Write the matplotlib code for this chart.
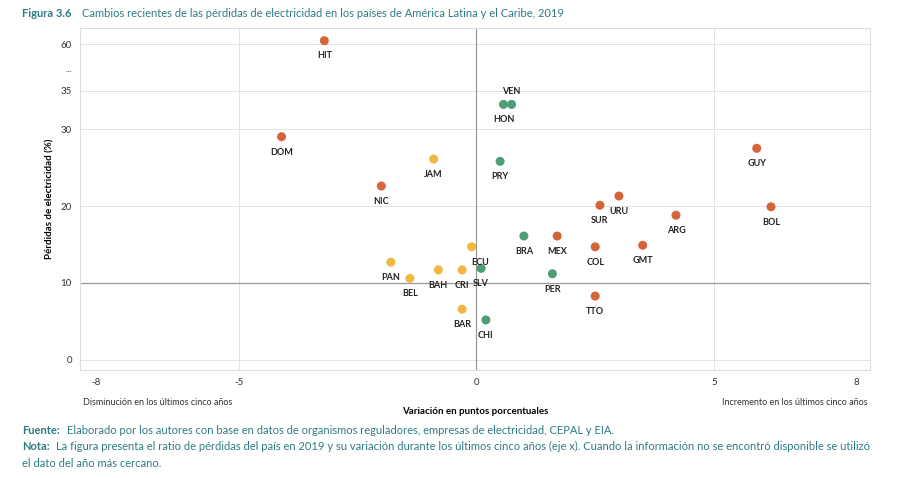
import matplotlib.pyplot as plt
import numpy as np

plt.rcParams['font.family'] = ['Lato', 'DejaVu Sans']

# datos
paises = ['HIT', 'DOM', 'JAM', 'PRY', 'NIC', 'VEN', 'HON', 'GUY', 'URU', 'SUR', 'ARG', 'BOL',
          'BRA', 'MEX', 'ECU', 'COL', 'GMT', 'PAN', 'BEL', 'BAH', 'CRI', 'SLV', 'PER', 'TTO',
          'BAR', 'CHI']
variacion = [-3.2, -4.1, -0.9, 0.5, -2.0, 0.74, 0.57, 5.9, 3.0, 2.6, 4.2, 6.2,
             1.0, 1.7, -0.1, 2.5, 3.5, -1.8, -1.4, -0.8, -0.3, 0.1, 1.6, 2.5, -0.3, 0.2]
perdidas = [62, 29.0, 26.1, 25.8, 22.6, 33.2, 33.2, 27.5, 21.3, 20.1, 18.8, 19.9,
            16.1, 16.1, 14.7, 14.7, 14.9, 12.7, 10.6, 11.7, 11.7, 11.9, 11.2, 8.3, 6.6, 5.2]
grupo = ['o', 'o', 'y', 'g', 'o', 'g', 'g', 'o', 'o', 'o', 'o', 'o',
         'g', 'o', 'y', 'o', 'o', 'y', 'y', 'y', 'y', 'g', 'g', 'o', 'y', 'g']
colores = {'o': '#d5643a', 'y': '#f0b841', 'g': '#4f9d77'}

# eje y cortado: 0-35 lineal, 60 se dibuja en ~41
def ytr(v):
    v = np.asarray(v, dtype=float)
    return np.where(v <= 35, v, 35 + (v - 35) * 6 / 25)

fig = plt.figure(figsize=(9, 4.78), dpi=100)
ax = fig.add_axes([0.089, 0.226, 0.878, 0.715])

ax.axvline(0, color='#999999', lw=0.9, zorder=1)
ax.axhline(10, color='#999999', lw=0.9, zorder=1)
for xv in [-5, 5]:
    ax.axvline(xv, color='#e3e3e3', lw=0.7, zorder=0)
for yv in [0, 20, 30, 35, 60]:
    ax.axhline(ytr(yv), color='#e3e3e3', lw=0.7, zorder=0)

ys = ytr(perdidas)
ax.scatter(variacion, ys, c=[colores[g] for g in grupo], s=42, zorder=3, edgecolors='none')
for p, x, y in zip(paises, variacion, ys):
    dy = 9 if p == 'VEN' else -11
    dx = 6 if p == 'ECU' else 0
    ax.annotate(p, (x, y), xytext=(dx, dy), textcoords='offset points',
                ha='center', va='center', fontsize=6.5, fontweight='bold', color='#222222')

ax.set_xlim(-8.34, 8.29)
ax.set_ylim(-1.3, 43.1)
ax.set_xticks([-8, -5, 0, 5, 8])
ax.set_xticklabels(['-8', '-5', '0', '5', '8'])
ax.set_yticks(list(ytr([0, 10, 20, 30, 35])) + [37.9, float(ytr(60))])
ax.set_yticklabels(['0', '10', '20', '30', '35', '...', '60'])
ax.tick_params(length=0, labelsize=7, colors='#333333', pad=6)
for s in ax.spines.values():
    s.set_color('#dddddd')
    s.set_linewidth(0.8)

ax.set_ylabel('Pérdidas de electricidad (%)', fontsize=7, fontweight='bold')
ax.set_xlabel('Variación en puntos porcentuales', fontsize=7, fontweight='bold', labelpad=14)
fig.text(0.092, 0.152, 'Disminución en los últimos cinco años', fontsize=6.5, color='#333333')
fig.text(0.964, 0.152, 'Incremento en los últimos cinco años', fontsize=6.5, color='#333333', ha='right')

teal = '#2e7c82'
fig.text(0.025, 0.965, 'Figura 3.6', fontsize=8, fontweight='bold', color=teal)
fig.text(0.091, 0.965, 'Cambios recientes de las pérdidas de electricidad en los países de América Latina y el Caribe, 2019',
         fontsize=8, color=teal)
fig.text(0.025, 0.093, 'Fuente:', fontsize=8, fontweight='bold', color=teal)
fig.text(0.074, 0.093, 'Elaborado por los autores con base en datos de organismos reguladores, empresas de electricidad, CEPAL y EIA.',
         fontsize=8, color=teal)
fig.text(0.025, 0.058, 'Nota:', fontsize=8, fontweight='bold', color=teal)
fig.text(0.062, 0.058, 'La figura presenta el ratio de pérdidas del país en 2019 y su variación durante los últimos cinco años (eje x). Cuando la información no se encontró disponible se utilizó',
         fontsize=8, color=teal)
fig.text(0.025, 0.023, 'el dato del año más cercano.', fontsize=8, color=teal)

fig.savefig('out.png', dpi=100)
